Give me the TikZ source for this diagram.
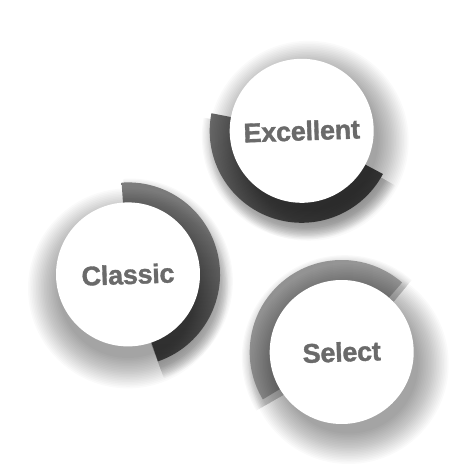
\documentclass[tikz,border=0pt]{standalone}
\usepackage{fontspec}
\setmainfont{Liberation Sans}[BoldFeatures={FakeBold=1.3,LetterSpace=-1}]
\usetikzlibrary{calc}
\definecolor{txtgray}{HTML}{6A6A6A}
\definecolor{ringEa}{HTML}{6A6A6A}
\definecolor{ringEb}{HTML}{464646}
\definecolor{ringCa}{HTML}{7E7E7E}
\definecolor{ringCb}{HTML}{505050}
\definecolor{ringSa}{HTML}{909090}
\definecolor{ringSb}{HTML}{989898}
\begin{document}
\begin{tikzpicture}[x=1pt,y=1pt,
  disc/.style={circle, fill=white, minimum size=144pt, inner sep=0pt,
    font=\bfseries\fontsize{27}{27}\selectfont, text=txtgray},
  discshadow/.style={fill=black, opacity=0.018},
  arcshadow/.style={draw=black, opacity=0.022}
  ]
\fill[white] (0,0) rectangle (455,466);
\useasboundingbox (0,0) rectangle (455,466);
\coordinate (cE) at (301.7,335.2);
\coordinate (cC) at (128,191.6);
\coordinate (cS) at (341.7,114);
% ring shadows
\foreach \i in {0,...,9}{
  \draw[arcshadow, line width={24+2.4*\i}] ($(cE)+(3,-6)+(169:80)$) arc[start angle=169,end angle=332,radius=80];
  \draw[arcshadow, line width={24+2.4*\i}] ($(cC)+(2,-7)+(-71:80)$) arc[start angle=-71,end angle=94,radius=80];
  \draw[arcshadow, line width={24+2.4*\i}] ($(cS)+(3,-6)+(49:80)$) arc[start angle=49,end angle=211,radius=80];
}
% rings
\path[left color=ringEa, right color=ringEb, shading angle=30]
  ($(cE)+(169:92)$) arc[start angle=169,end angle=332,radius=92]
  -- ($(cE)+(332:68)$) arc[start angle=332,end angle=169,radius=68] -- cycle;
\path[top color=ringCa, bottom color=ringCb]
  ($(cC)+(-71:92)$) arc[start angle=-71,end angle=94,radius=92]
  -- ($(cC)+(94:68)$) arc[start angle=94,end angle=-71,radius=68] -- cycle;
\path[left color=ringSa, right color=ringSb]
  ($(cS)+(49:92)$) arc[start angle=49,end angle=211,radius=92]
  -- ($(cS)+(211:68)$) arc[start angle=211,end angle=49,radius=68] -- cycle;
% disc shadows
\foreach \i in {0,...,19}{
  \fill[discshadow] ($(cE)+(7,-10)$) circle[radius={100-1.6*\i}];
  \fill[discshadow] ($(cC)+(0,-14)$) circle[radius={100-1.6*\i}];
  \fill[discshadow] ($(cS)+(7,-12)$) circle[radius={100-1.6*\i}];
}
% discs
\node[disc, rotate=2] (exc) at (cE) {Excellent};
\node[disc, rotate=2] (cla) at (cC) {Classic};
\node[disc, rotate=2] (sel) at (cS) {Select};
\end{tikzpicture}
\end{document}
